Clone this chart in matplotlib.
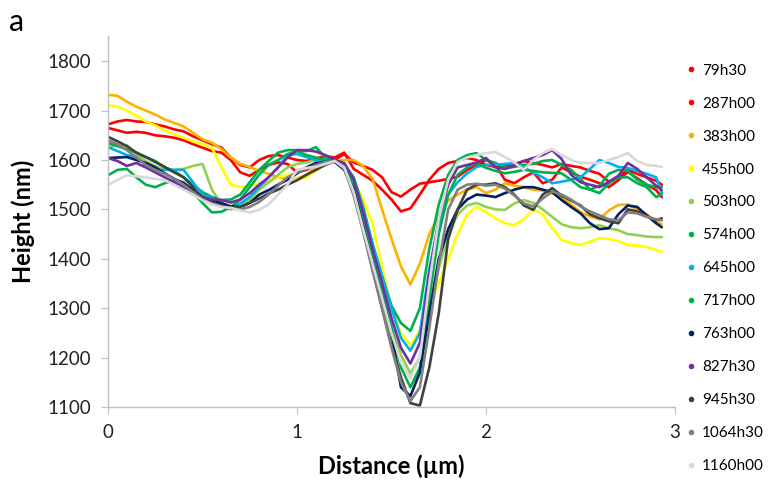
import matplotlib
matplotlib.use("Agg")
import matplotlib.pyplot as plt
from matplotlib.lines import Line2D

plt.rcParams['font.family'] = ['Lato', 'DejaVu Sans']

distance = [0.00, 0.05, 0.10, 0.15, 0.20, 0.25, 0.30, 0.35, 0.40, 0.45,
            0.50, 0.55, 0.60, 0.65, 0.70, 0.75, 0.80, 0.85, 0.90, 0.95,
            1.00, 1.05, 1.10, 1.15, 1.20, 1.25, 1.30, 1.35, 1.40, 1.45,
            1.50, 1.55, 1.60, 1.65, 1.70, 1.75, 1.80, 1.85, 1.90, 1.95,
            2.00, 2.05, 2.10, 2.15, 2.20, 2.25, 2.30, 2.35, 2.40, 2.45,
            2.50, 2.55, 2.60, 2.65, 2.70, 2.75, 2.80, 2.85, 2.90, 2.93]

h_79h30 = [1665, 1660, 1655, 1657, 1655, 1650, 1648, 1645, 1640, 1632,
           1625, 1618, 1615, 1600, 1575, 1568, 1580, 1590, 1595, 1592,
           1575, 1580, 1590, 1598, 1600, 1612, 1595, 1588, 1580, 1565,
           1535, 1526, 1540, 1552, 1555, 1558, 1562, 1566, 1580, 1590,
           1600, 1590, 1560, 1553, 1565, 1575, 1553, 1560, 1585, 1575,
           1566, 1560, 1553, 1545, 1559, 1576, 1563, 1550, 1539, 1525]
h_287h00 = [1672, 1678, 1681, 1678, 1677, 1672, 1668, 1662, 1658, 1648,
            1640, 1632, 1625, 1605, 1590, 1585, 1600, 1608, 1610, 1605,
            1600, 1598, 1603, 1608, 1605, 1615, 1582, 1570, 1558, 1540,
            1520, 1496, 1502, 1530, 1560, 1582, 1594, 1598, 1604, 1600,
            1590, 1586, 1588, 1592, 1598, 1594, 1590, 1585, 1592, 1588,
            1585, 1578, 1572, 1556, 1565, 1580, 1572, 1565, 1558, 1550]
h_383h00 = [1732, 1730, 1718, 1708, 1700, 1692, 1682, 1675, 1668, 1655,
            1642, 1635, 1622, 1605, 1592, 1586, 1578, 1572, 1565, 1562,
            1562, 1570, 1585, 1600, 1598, 1600, 1600, 1588, 1562, 1500,
            1440, 1385, 1348, 1390, 1450, 1488, 1518, 1530, 1540, 1545,
            1533, 1540, 1553, 1548, 1545, 1540, 1538, 1532, 1525, 1510,
            1494, 1486, 1480, 1498, 1509, 1510, 1500, 1490, 1476, 1470]
h_455h00 = [1711, 1708, 1700, 1690, 1678, 1670, 1660, 1652, 1645, 1638,
            1632, 1625, 1585, 1550, 1545, 1548, 1552, 1555, 1565, 1570,
            1560, 1565, 1578, 1594, 1598, 1585, 1560, 1520, 1470, 1385,
            1300, 1250, 1225, 1255, 1300, 1350, 1400, 1450, 1490, 1505,
            1495, 1482, 1472, 1468, 1480, 1500, 1490, 1462, 1438, 1432,
            1428, 1435, 1442, 1440, 1436, 1428, 1427, 1424, 1418, 1414]
h_503h00 = [1625, 1630, 1630, 1612, 1598, 1588, 1580, 1580, 1582, 1588,
            1592, 1540, 1510, 1500, 1505, 1520, 1540, 1555, 1570, 1585,
            1592, 1595, 1600, 1598, 1598, 1585, 1545, 1480, 1410, 1340,
            1265, 1205, 1168, 1200, 1290, 1380, 1450, 1490, 1508, 1513,
            1505, 1500, 1499, 1512, 1519, 1513, 1500, 1485, 1470, 1464,
            1462, 1464, 1468, 1462, 1458, 1450, 1448, 1445, 1444, 1444]
h_574h00 = [1634, 1628, 1622, 1615, 1606, 1598, 1585, 1578, 1565, 1550,
            1535, 1525, 1519, 1520, 1530, 1555, 1580, 1598, 1615, 1620,
            1620, 1618, 1626, 1605, 1600, 1592, 1565, 1505, 1430, 1365,
            1305, 1270, 1254, 1300, 1420, 1510, 1570, 1600, 1610, 1614,
            1600, 1594, 1584, 1586, 1590, 1592, 1598, 1600, 1590, 1580,
            1562, 1540, 1533, 1553, 1565, 1565, 1553, 1545, 1525, 1530]
h_645h00 = [1626, 1618, 1610, 1606, 1590, 1580, 1580, 1580, 1580, 1555,
            1530, 1522, 1510, 1505, 1512, 1525, 1545, 1565, 1585, 1610,
            1612, 1606, 1600, 1600, 1600, 1590, 1560, 1500, 1430, 1365,
            1300, 1240, 1214, 1250, 1380, 1470, 1530, 1555, 1573, 1586,
            1590, 1590, 1592, 1594, 1585, 1575, 1565, 1553, 1556, 1560,
            1565, 1582, 1600, 1594, 1586, 1584, 1578, 1572, 1565, 1533]
h_717h00 = [1569, 1580, 1582, 1565, 1550, 1545, 1553, 1559, 1555, 1535,
            1513, 1494, 1495, 1505, 1520, 1545, 1570, 1590, 1600, 1612,
            1618, 1610, 1605, 1600, 1600, 1590, 1550, 1480, 1405, 1335,
            1260, 1180, 1140, 1180, 1320, 1450, 1530, 1570, 1585, 1594,
            1584, 1578, 1573, 1576, 1580, 1578, 1575, 1574, 1573, 1560,
            1545, 1540, 1548, 1572, 1580, 1578, 1560, 1550, 1545, 1545]
h_763h00 = [1604, 1605, 1606, 1600, 1594, 1585, 1573, 1562, 1553, 1540,
            1525, 1518, 1513, 1506, 1505, 1513, 1530, 1539, 1550, 1560,
            1573, 1585, 1594, 1596, 1596, 1580, 1540, 1465, 1390, 1320,
            1250, 1140, 1122, 1170, 1290, 1400, 1460, 1500, 1520, 1530,
            1528, 1525, 1533, 1540, 1545, 1545, 1540, 1535, 1519, 1505,
            1492, 1472, 1460, 1462, 1490, 1508, 1505, 1488, 1472, 1464]
h_827h30 = [1604, 1598, 1588, 1594, 1585, 1575, 1565, 1555, 1545, 1535,
            1525, 1520, 1519, 1514, 1520, 1533, 1550, 1565, 1585, 1605,
            1620, 1620, 1617, 1610, 1600, 1594, 1560, 1495, 1420, 1350,
            1280, 1220, 1188, 1230, 1370, 1480, 1550, 1585, 1590, 1595,
            1604, 1585, 1582, 1588, 1598, 1604, 1610, 1620, 1602, 1570,
            1555, 1550, 1545, 1556, 1568, 1594, 1582, 1565, 1548, 1539]
h_945h30 = [1647, 1638, 1628, 1615, 1606, 1596, 1586, 1575, 1565, 1545,
            1522, 1513, 1508, 1504, 1505, 1513, 1522, 1532, 1540, 1550,
            1559, 1570, 1580, 1590, 1598, 1585, 1535, 1460, 1380, 1300,
            1225, 1160, 1108, 1103, 1180, 1290, 1440, 1500, 1540, 1550,
            1550, 1553, 1545, 1530, 1508, 1499, 1530, 1543, 1528, 1518,
            1508, 1490, 1482, 1476, 1472, 1500, 1496, 1486, 1478, 1482]
h_1064h30 = [1640, 1632, 1620, 1605, 1590, 1580, 1572, 1562, 1550, 1535,
             1520, 1512, 1506, 1502, 1500, 1505, 1515, 1530, 1548, 1565,
             1575, 1582, 1590, 1596, 1598, 1582, 1528, 1455, 1375, 1300,
             1220, 1150, 1112, 1140, 1260, 1390, 1500, 1540, 1550, 1552,
             1548, 1550, 1542, 1528, 1512, 1506, 1522, 1536, 1530, 1520,
             1506, 1496, 1488, 1480, 1478, 1494, 1492, 1485, 1480, 1478]
h_1160h00 = [1549, 1560, 1569, 1567, 1565, 1562, 1559, 1550, 1540, 1530,
             1519, 1510, 1505, 1503, 1498, 1494, 1499, 1510, 1530, 1550,
             1580, 1584, 1586, 1592, 1598, 1585, 1535, 1460, 1390, 1320,
             1250, 1190, 1158, 1200, 1350, 1480, 1560, 1596, 1605, 1610,
             1614, 1616, 1606, 1595, 1580, 1600, 1614, 1622, 1610, 1600,
             1594, 1594, 1594, 1600, 1606, 1614, 1598, 1590, 1588, 1586]

labels = ["79h30", "287h00", "383h00", "455h00", "503h00", "574h00", "645h00",
          "717h00", "763h00", "827h30", "945h30", "1064h30", "1160h00"]
series = [h_79h30, h_287h00, h_383h00, h_455h00, h_503h00, h_574h00, h_645h00,
          h_717h00, h_763h00, h_827h30, h_945h30, h_1064h30, h_1160h00]
colors = ["#FF0000", "#FF0000", "#FFB000", "#FFFF00", "#92D050", "#00B050",
          "#00B0F0", "#00B050", "#002060", "#7030A0", "#404040", "#808080",
          "#D9D9D9"]

yticks = [1100, 1200, 1300, 1400, 1500, 1600, 1700, 1800]
xticks = [0, 1, 2, 3]

fig = plt.figure(figsize=(7.69, 4.80), dpi=100)
ax = fig.add_axes([0.1404, 0.152, 0.7374, 0.772])

for lab, vals, col in zip(labels, series, colors):
    ax.plot(distance, vals, color=col, lw=1.9, label=lab, solid_capstyle='round')

ax.set_xlim(0, 3)
ax.set_ylim(1100, 1850)
ax.set_yticks(yticks)
ax.set_xticks(xticks)
for s in ['top', 'right']:
    ax.spines[s].set_visible(False)
for s in ['left', 'bottom']:
    ax.spines[s].set_color('#BFBFBF')
    ax.spines[s].set_linewidth(1.0)
ax.tick_params(axis='both', direction='out', length=5, color='#BFBFBF',
               labelsize=13.5, labelcolor='#222222')
ax.tick_params(axis='y', pad=7)
ax.tick_params(axis='x', pad=7)

ax.set_xlabel("Distance (µm)", fontsize=17, fontweight='bold', labelpad=10)
ax.set_ylabel("Height (nm)", fontsize=17, fontweight='bold', labelpad=9)

fig.text(0.012, 0.955, "a", fontsize=22, va='center', ha='left')

handles = [Line2D([], [], linestyle='none', marker='o', markersize=3,
                  markerfacecolor=c, markeredgecolor=c) for c in colors]
fig.legend(handles, labels, loc='upper left', bbox_to_anchor=(0.886, 0.88),
           frameon=False, fontsize=11, handlelength=0.5, handletextpad=0.45,
           labelspacing=1.24, borderaxespad=0)

fig.savefig("out.png", dpi=100)
